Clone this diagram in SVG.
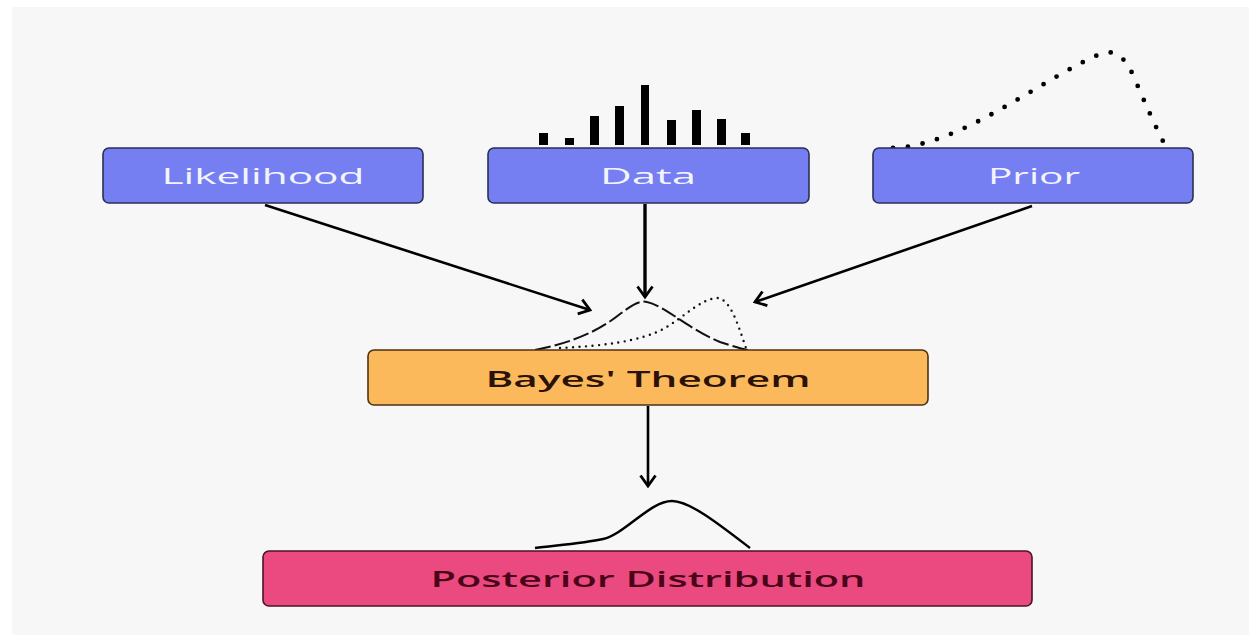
<svg xmlns="http://www.w3.org/2000/svg" width="1249" height="635" viewBox="0 0 1249 635">
  <defs>
    <style>
      .box { stroke: #2b2f55; stroke-width: 1.6; }
      .in { fill: #767ff2; }
      .bayes { fill: #fbb95c; stroke: #4a3215; }
      .post { fill: #ea4a80; stroke: #4a1525; }
      .lbl { font-family: "Open Sans", "Liberation Sans", sans-serif; font-size: 22px; text-anchor: middle; dominant-baseline: central; }
      .w { fill: #f4f4ff; font-weight: 500; }
      .dk { fill: #2a1208; font-weight: 600; }
      .dm { fill: #4a0418; font-weight: 600; }
      .edge { stroke: #000; stroke-width: 2.6; fill: none; }
      .thick { stroke-width: 3.4; }
      .dash { stroke: #111; stroke-width: 2; fill: none; stroke-dasharray: 16 4; }
      .dots { stroke: #111; stroke-width: 2.4; fill: none; stroke-linecap: round; stroke-dasharray: 0 6.5; }
      .bigdots { stroke: #000; stroke-width: 4.8; fill: none; stroke-linecap: round; stroke-dasharray: 0 15; }
      .solid { stroke: #000; stroke-width: 2.4; fill: none; }
    </style>
    <marker id="arr" viewBox="0 0 14 18" refX="12" refY="9" markerWidth="14" markerHeight="18" markerUnits="userSpaceOnUse" orient="auto">
      <path d="M1.5 1.5 L12 9 L1.5 16.5" fill="none" stroke="#000" stroke-width="2.8" stroke-linejoin="miter"/>
    </marker>
  </defs>

  <!-- backdrop -->
  <rect x="0" y="0" width="1249" height="635" fill="#ffffff"/>
  <rect x="12" y="7" width="1237" height="628" fill="#f7f7f7"/>

  <!-- sample bars above the Data node -->
  <g id="data-bars" fill="#000">
    <rect x="539" y="133" width="9" height="12"/>
    <rect x="565" y="138" width="9" height="7"/>
    <rect x="590" y="116" width="9" height="29"/>
    <rect x="615" y="106" width="9" height="39"/>
    <rect x="641" y="85" width="8" height="60"/>
    <rect x="667" y="120" width="9" height="25"/>
    <rect x="692" y="110" width="9" height="35"/>
    <rect x="717" y="119" width="9" height="26"/>
    <rect x="741" y="133" width="9" height="12"/>
  </g>

  <!-- prior density sketch -->
  <path id="prior-curve" class="bigdots" d="M 893 148 C 960 146, 1040 80, 1100 54 C 1118 47, 1128 62, 1136 82 C 1146 105, 1156 128, 1165 145"/>

  <!-- likelihood and prior sketches above Bayes' Theorem -->
  <path id="lik-curve" class="dash" d="M 535 350 C 575 342, 600 330, 620 314 C 632 305, 640 300, 647 302 C 665 306, 690 330, 720 342 C 735 347, 742 349, 748 350"/>
  <path id="prior-small" class="dots" d="M 560 348 C 600 346, 640 342, 665 328 C 685 316, 700 300, 716 298 C 730 297, 738 325, 746 348"/>

  <!-- posterior sketch -->
  <path id="post-curve" class="solid" d="M 535 548 C 560 545, 585 543, 603 539 C 625 534, 650 501, 672 501 C 690 501, 720 525, 750 548"/>

  <g id="connectors">
    <line class="edge" x1="265" y1="205" x2="590" y2="310" marker-end="url(#arr)"/>
    <line class="edge thick" x1="645" y1="204" x2="645" y2="297" marker-end="url(#arr)"/>
    <line class="edge" x1="1032" y1="206" x2="755" y2="302" marker-end="url(#arr)"/>
    <line class="edge" x1="648" y1="406" x2="648" y2="486" marker-end="url(#arr)"/>
  </g>

  <g id="likelihood">
    <rect class="box in" x="103" y="148" width="320" height="55" rx="6"/>
    <text class="lbl w" x="263" y="175" textLength="203" lengthAdjust="spacingAndGlyphs">Likelihood</text>
  </g>
  <g id="data">
    <rect class="box in" x="488" y="148" width="321" height="55" rx="6"/>
    <text class="lbl w" x="648" y="175" textLength="96" lengthAdjust="spacingAndGlyphs">Data</text>
  </g>
  <g id="prior">
    <rect class="box in" x="873" y="148" width="320" height="55" rx="6"/>
    <text class="lbl w" x="1034" y="175" textLength="92" lengthAdjust="spacingAndGlyphs">Prior</text>
  </g>
  <g id="bayes">
    <rect class="box bayes" x="368" y="350" width="560" height="55" rx="6"/>
    <text class="lbl dk" x="648" y="378" textLength="325" lengthAdjust="spacingAndGlyphs">Bayes' Theorem</text>
  </g>
  <g id="posterior">
    <rect class="box post" x="263" y="551" width="769" height="55" rx="6"/>
    <text class="lbl dm" x="648" y="578" textLength="435" lengthAdjust="spacingAndGlyphs">Posterior Distribution</text>
  </g>
</svg>
